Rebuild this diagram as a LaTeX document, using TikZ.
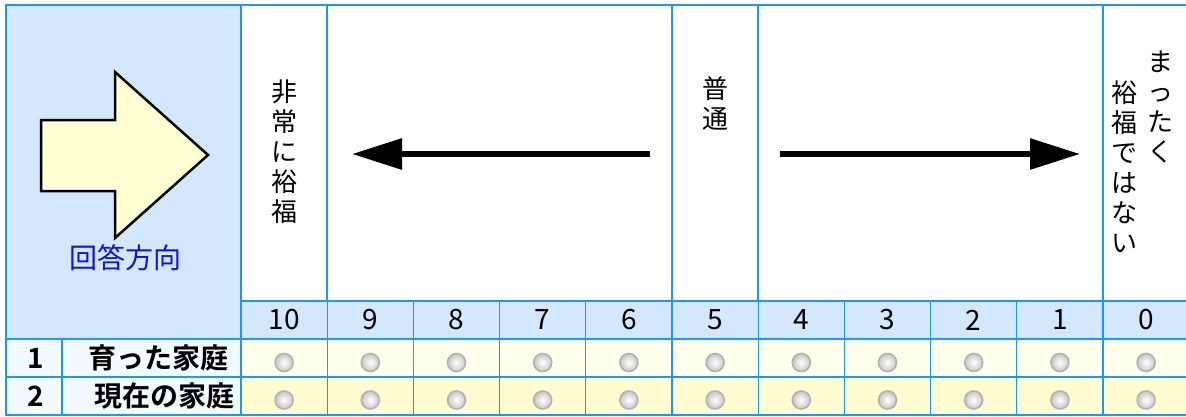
\documentclass[tikz,border=0pt]{standalone}
\usepackage{fontspec}
\setmainfont{Noto Sans CJK JP}[BoldFont={Noto Sans CJK JP Bold}]
\usetikzlibrary{arrows.meta}
\definecolor{gridblue}{HTML}{1E96F5}
\definecolor{headblue}{HTML}{D3E8FC}
\definecolor{labelbg}{HTML}{F2FAFF}
\definecolor{rowone}{HTML}{FFFFEE}
\definecolor{rowtwo}{HTML}{FFFCD2}
\definecolor{arrowfill}{HTML}{FFFFD4}
\definecolor{textblue}{HTML}{0A14E6}
\tikzset{
   gridline/.style={draw=gridblue, line width=1.3pt},
   border/.style={draw=gridblue, line width=2.5pt},
   radio/.style={circle, minimum size=18pt, inner sep=0pt, draw=black!30,
      line width=1.6pt, inner color=white, outer color=black!22},
   vtext/.style={align=center, font=\fontsize{26}{30}\selectfont},
   numtext/.style={font=\fontsize{28}{28}\selectfont},
   rowlabel/.style={font=\fontsize{28}{28}\selectfont\bfseries},
   scalearrow/.style={line width=6pt, -{Triangle[length=50pt, width=30pt]}}
}
\begin{document}
\begin{tikzpicture}[x=1pt, y=-1pt]
   \useasboundingbox (0,0) rectangle (1186,416);
   % backgrounds
   \fill[headblue] (6,5) rectangle (241,339);
   \fill[headblue] (241,301) rectangle (1186,339);
   \fill[labelbg] (6,339) rectangle (241,415);
   \fill[rowone] (241,339) rectangle (1186,377);
   \fill[rowtwo] (241,377) rectangle (1186,415);
   % grid
   \foreach \y in {339, 377, 415} {
      \path[gridline] (6,\y) -- (1186,\y);
   }
   \path[gridline] (241,301) -- (1186,301);
   \path[gridline] (62,339) -- (62,415);
   \foreach \x in {241, 327, 672, 758, 1103} {
      \path[gridline] (\x,5) -- (\x,301);
   }
   \foreach \i in {0,...,10} {
      \pgfmathsetmacro\x{241+86.2*\i}
      \pgfmathsetmacro\c{284.1+86.2*\i}
      \pgfmathtruncatemacro\n{10-\i}
      \path[gridline] (\x,301) -- (\x,415);
      \node[numtext] (n\n) at (\c,320) {\n};
      \node[radio] (a\n) at (\c,362.5) {};
      \node[radio] (b\n) at (\c,400) {};
   }
   \path[border] (6,416) -- (6,5) -- (1186,5);
   % answer direction
   \draw[fill=arrowfill, line width=2.5pt, line join=miter]
      (41,120) -- (115,120) -- (115,72) -- (208,155)
      -- (115,238) -- (115,191) -- (41,191) -- cycle;
   \node[text=textblue, font=\fontsize{28}{28}\selectfont] (dir) at (125,258) {回答方向};
   % scale heads
   \node[vtext] (rich) at (284,152) {非\\常\\に\\裕\\福};
   \node[vtext] (avg) at (715,103) {普\\通};
   \node[vtext] (notrichA) at (1160,107) {ま\\っ\\た\\く};
   \node[vtext] (notrichB) at (1124,167) {裕\\福\\で\\は\\な\\い};
   \coordinate (l0) at (650,154);
   \coordinate (l1) at (352,154);
   \coordinate (r0) at (780,154);
   \coordinate (r1) at (1080,154);
   \draw[scalearrow] (l0) -- (l1);
   \draw[scalearrow] (r0) -- (r1);
   % rows
   \node[rowlabel] (k1) at (36,358) {1};
   \node[rowlabel] (k2) at (36,396) {2};
   \node[rowlabel, anchor=east] (q1) at (232,358) {育った家庭};
   \node[rowlabel, anchor=east] (q2) at (238,396) {現在の家庭};
\end{tikzpicture}
\end{document}
